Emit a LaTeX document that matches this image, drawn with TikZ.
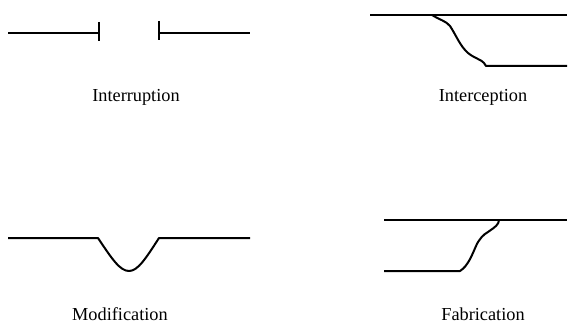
\documentclass[tikz,border=0pt]{standalone}
\usepackage{fontspec}
\setmainfont{Liberation Serif}
\begin{document}
\begin{tikzpicture}[x=1pt,y=-1pt,
  wire/.style={line width=2pt,line join=round},
  lbl/.style={anchor=base,inner sep=0pt,font=\fontsize{18.3}{20}\selectfont}]
\useasboundingbox (0,0) rectangle (577,326);
% Interruption
\draw[wire] (8,33) -- (99,33);
\draw[wire] (99,22) -- (99,41);
\draw[wire] (159,21) -- (159,40);
\draw[wire] (159,33) -- (250,33);
\node[lbl] (int1) at (136,101) {Interruption};
% Interception
\draw[wire] (370,15) -- (567,15);
\draw[wire] (432,15) .. controls (440,20) and (446,21) .. (450,26)
  .. controls (456,35) and (460,46) .. (468,53)
  .. controls (474,58) and (482,60) .. (484,63)
  -- (486,66) -- (567,66);
\node[lbl] (int2) at (483,101) {Interception};
% Modification
\draw[wire] (8,238) -- (98,238)
  .. controls (112,259) and (120,271) .. (129,271)
  .. controls (138,271) and (146,258) .. (159,238) -- (250,238);
\node[lbl] (mod) at (120,320) {Modification};
% Fabrication
\draw[wire] (384,220) -- (567,220);
\draw[wire] (384,271) -- (460,271)
  .. controls (468,266) and (472,255) .. (476,246)
  .. controls (479,239) and (484,234) .. (488,232)
  .. controls (492,229) and (494,228) .. (496,226)
  .. controls (498,224) and (499,222) .. (499,220);
\node[lbl] (fab) at (483,320) {Fabrication};
\end{tikzpicture}
\end{document}
